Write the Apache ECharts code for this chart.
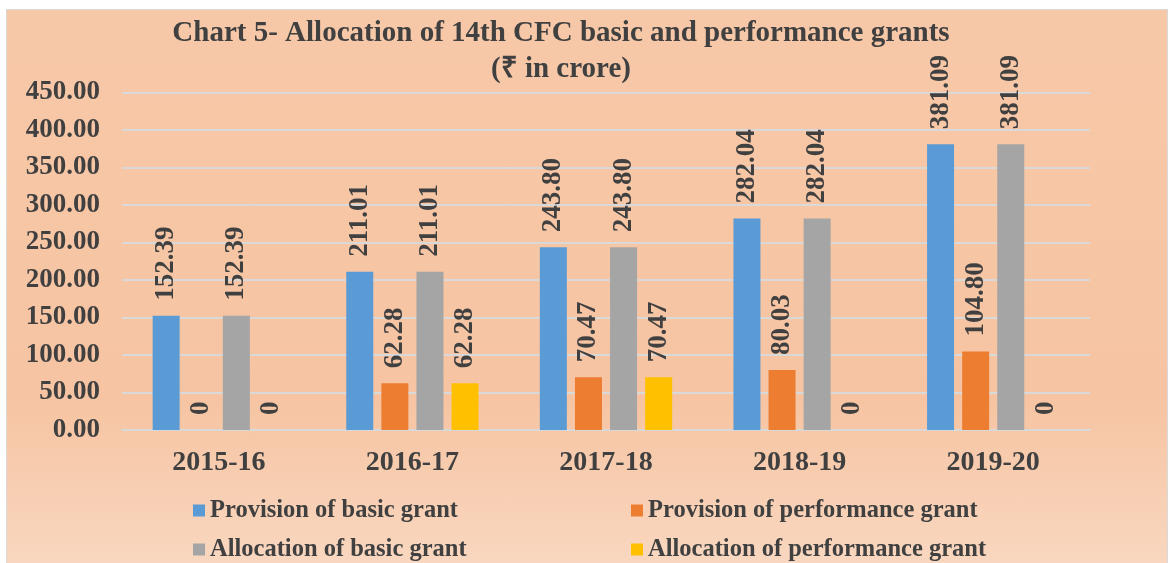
<!DOCTYPE html>
<html>
<head>
<meta charset="utf-8">
<script src="https://cdn.jsdelivr.net/npm/echarts@6/dist/echarts.min.js"></script>
<style>
  html, body { margin: 0; padding: 0; background: #fff; }
  #frame {
    position: absolute; left: 6px; top: 9px; width: 1160px; height: 556px;
    border: 1px solid #d9d9d9;
    background: linear-gradient(to bottom, #f7c8a8 0%, #f6c4a2 70%, #f9d7c0 100%);
  }
  #main { position: absolute; left: 0; top: 0; width: 1172px; height: 563px; }
</style>
</head>
<body>
<div id="frame"></div>
<div id="main"></div>
<script>
// categories and values
var years = ['2015-16', '2016-17', '2017-18', '2018-19', '2019-20'];
var provisionBasic = [152.39, 211.01, 243.80, 282.04, 381.09];
var provisionPerf = [0, 62.28, 70.47, 80.03, 104.80];
var allocationBasic = [152.39, 211.01, 243.80, 282.04, 381.09];
var allocationPerf = [0, 62.28, 70.47, 0, 0];

var seriesNames = [
  'Provision of basic grant',
  'Provision of performance grant',
  'Allocation of basic grant',
  'Allocation of performance grant'
];
var colors = ['#5b9bd5', '#ed7d31', '#a5a5a5', '#ffc000'];

var FONT = '"Liberation Serif", "Times New Roman", serif';
var TXT = '#404040';

var chart = echarts.init(document.getElementById('main'));

function makeBar(name, data, color) {
  return {
    name: name,
    type: 'bar',
    data: data,
    barWidth: 27,
    barGap: '30%',
    itemStyle: { color: color },
    label: {
      show: true,
      position: 'top',
      rotate: 90,
      align: 'left',
      verticalAlign: 'middle',
      distance: 15,
      fontFamily: FONT,
      fontWeight: 'bold',
      fontSize: 27,
      color: TXT,
      formatter: function (p) {
        return p.value === 0 ? '0' : p.value.toFixed(2);
      }
    }
  };
}

function legendAt(name, left, top) {
  return {
    data: [name],
    left: left,
    top: top,
    padding: 0,
    icon: 'rect',
    itemWidth: 12,
    itemHeight: 12,
    textStyle: { fontFamily: FONT, fontWeight: 'bold', fontSize: 24.5, color: TXT }
  };
}

chart.setOption({
  color: colors,
  textStyle: { fontFamily: FONT },
  title: {
    text: 'Chart 5- Allocation of 14th CFC basic and performance grants\n(₹ in crore)',
    left: 561,
    top: 16,
    padding: 0,
    textAlign: 'center',
    textStyle: {
      fontFamily: FONT,
      fontWeight: 'bold',
      fontSize: 29,
      lineHeight: 36,
      color: TXT
    }
  },
  legend: [
    legendAt(seriesNames[0], 193, 498),
    legendAt(seriesNames[1], 631, 498),
    legendAt(seriesNames[2], 193, 537),
    legendAt(seriesNames[3], 631, 537)
  ],
  grid: { left: 122, right: 82, top: 92.5, bottom: 133 },
  xAxis: {
    type: 'category',
    data: years,
    axisTick: { show: false },
    axisLine: { lineStyle: { color: '#d9d9d9', width: 2 } },
    axisLabel: {
      fontFamily: FONT, fontWeight: 'bold', fontSize: 28, color: TXT, margin: 19
    }
  },
  yAxis: {
    type: 'value',
    min: 0,
    max: 450,
    interval: 50,
    axisLine: { show: false },
    axisTick: { show: false },
    splitLine: { lineStyle: { color: '#d9d9d9', width: 2 } },
    axisLabel: {
      fontFamily: FONT, fontWeight: 'bold', fontSize: 27, color: TXT, margin: 22,
      formatter: function (v) { return v.toFixed(2); }
    }
  },
  series: [
    makeBar(seriesNames[0], provisionBasic, colors[0]),
    makeBar(seriesNames[1], provisionPerf, colors[1]),
    makeBar(seriesNames[2], allocationBasic, colors[2]),
    makeBar(seriesNames[3], allocationPerf, colors[3])
  ]
});
</script>
</body>
</html>
